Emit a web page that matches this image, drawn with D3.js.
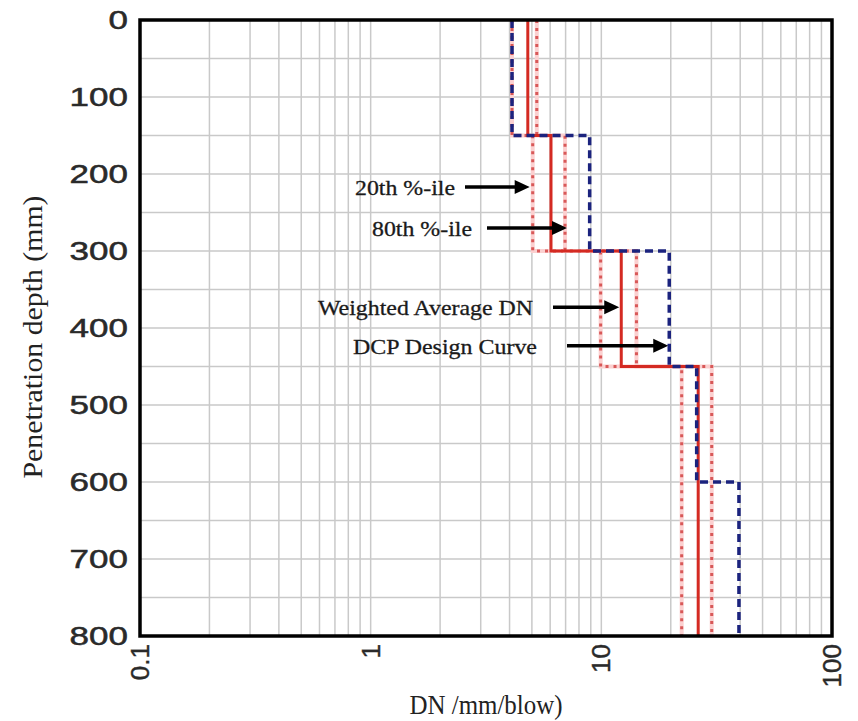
<!DOCTYPE html>
<html><head><meta charset="utf-8">
<script src="https://cdn.jsdelivr.net/npm/d3@7"></script>
<style>html,body{margin:0;padding:0;background:#fff;}</style>
</head><body>
<svg id="chart" width="858" height="721"></svg>
<script>
// ---- data ----
const layerEdges = [0, 150, 300, 450, 800];          // mm
const weightedAvgDN = [4.8, 6.05, 12.2, 26.3];       // mm/blow
const p20DN = [4.1, 5.04, 9.93, 22.3];
const p80DN = [5.25, 6.96, 14.2, 30.1];
const designEdges = [0, 150, 300, 450, 600, 800];
const designDN = [4.1, 8.9, 19.7, 25.9, 39.5];
const xTickLabels = ["0.1", "1", "10", "100"];
const xTickValues = [0.1, 1, 10, 100];
const yTickValues = [0, 100, 200, 300, 400, 500, 600, 700, 800];
const annLabels = ["20th %-ile", "80th %-ile", "Weighted Average DN", "DCP Design Curve"];
const annDepth = [217, 270, 373, 423];

// ---- layout ----
const L = 140, R = 832, T = 20, B = 636;
const svg = d3.select("#chart");
const x = d3.scaleLog().domain([0.1, 100]).range([L, R]);
const y = d3.scaleLinear().domain([0, 800]).range([T, B]);

// grid
const minor = [];
[0.1, 1, 10].forEach(d => { for (let k = 1; k <= 9; k++) minor.push(d * k); });
minor.push(100);
svg.append("g").selectAll("line").data(minor).join("line")
  .attr("x1", d => x(d)).attr("x2", d => x(d)).attr("y1", T).attr("y2", B)
  .attr("stroke", "#c9c9c9").attr("stroke-width", 1.5);
svg.append("g").selectAll("line").data(d3.range(0, 801, 50)).join("line")
  .attr("x1", L).attr("x2", R).attr("y1", d => y(d)).attr("y2", d => y(d))
  .attr("stroke", "#c9c9c9").attr("stroke-width", 1.5);

// step paths
function stepPts(edges, vals) {
  const pts = [];
  vals.forEach((v, i) => { pts.push([v, edges[i]]); pts.push([v, edges[i + 1]]); });
  return pts;
}
const line = d3.line().x(d => x(d[0])).y(d => y(d[1]));

[p20DN, p80DN].forEach(arr => {
  svg.append("path").attr("d", line(stepPts(layerEdges, arr)))
    .attr("fill", "none").attr("stroke", "#fbd0d0").attr("stroke-width", 4);
  svg.append("path").attr("d", line(stepPts(layerEdges, arr)))
    .attr("fill", "none").attr("stroke", "#d85858").attr("stroke-width", 3)
    .attr("stroke-dasharray", "3,5");
});
svg.append("path").attr("d", line(stepPts(layerEdges, weightedAvgDN)))
  .attr("fill", "none").attr("stroke", "#d42a22").attr("stroke-width", 3);
svg.append("path").attr("d", line(stepPts(designEdges, designDN)))
  .attr("fill", "none").attr("stroke", "#1b237e").attr("stroke-width", 3.5)
  .attr("stroke-dasharray", "8,5");

// frame
svg.append("rect").attr("x", L).attr("y", T).attr("width", R - L).attr("height", B - T)
  .attr("fill", "none").attr("stroke", "#000").attr("stroke-width", 3.5);

// y tick labels
svg.append("g").selectAll("text").data(yTickValues).join("text")
  .attr("transform", d => `translate(128,${y(d) + 9}) scale(1.4,1)`)
  .attr("text-anchor", "end").attr("font-family", "Liberation Sans, Arial, sans-serif")
  .attr("font-size", 25).attr("fill", "#2a2a2a").attr("stroke", "#2a2a2a").attr("stroke-width", 0.5)
  .text(d => d);

// x tick labels (rotated)
svg.append("g").selectAll("text").data(xTickValues).join("text")
  .attr("transform", d => `translate(${x(d) + 9},644) rotate(-90)`)
  .attr("text-anchor", "end").attr("font-family", "Liberation Sans, Arial, sans-serif")
  .attr("font-size", 26).attr("fill", "#2a2a2a").attr("stroke", "#2a2a2a").attr("stroke-width", 0.4)
  .text((d, i) => xTickLabels[i]);

// axis titles
svg.append("text").attr("x", 486).attr("y", 714).attr("text-anchor", "middle")
  .attr("font-family", "Liberation Serif, Times New Roman, serif").attr("font-size", 27)
  .attr("textLength", 153).attr("lengthAdjust", "spacingAndGlyphs").attr("fill", "#222")
  .text("DN /mm/blow)");
svg.append("text").attr("transform", "translate(42,337) rotate(-90)").attr("text-anchor", "middle")
  .attr("font-family", "Liberation Serif, Times New Roman, serif").attr("font-size", 28)
  .attr("textLength", 283).attr("lengthAdjust", "spacingAndGlyphs").attr("fill", "#222")
  .text("Penetration depth (mm)");

// annotations
const annTextEnd = [455, 472, 533, 537];
const annTextLen = [100, 100, 215, 184];
const annStart = [465, 487, 553, 567];
const annTip = [x(p20DN[1]) - 3, x(p80DN[1]) + 2, x(weightedAvgDN[2]) - 2, x(designDN[2]) - 1];
annLabels.forEach((lab, i) => {
  const yy = y(annDepth[i]);
  svg.append("text").attr("x", annTextEnd[i] - annTextLen[i]).attr("y", yy + 8)
    .attr("font-family", "Liberation Serif, Times New Roman, serif").attr("font-size", 22)
    .attr("textLength", annTextLen[i]).attr("lengthAdjust", "spacingAndGlyphs")
    .attr("fill", "#1a1a1a").attr("stroke", "#1a1a1a").attr("stroke-width", 0.3).text(lab);
  const tip = annTip[i], ah = 15, aw = 7;
  svg.append("line").attr("x1", annStart[i]).attr("x2", tip - ah + 2).attr("y1", yy).attr("y2", yy)
    .attr("stroke", "#000").attr("stroke-width", 3.5);
  svg.append("path").attr("d", `M${tip},${yy}L${tip - ah},${yy - aw}L${tip - ah},${yy + aw}Z`)
    .attr("fill", "#000");
});
</script>
</body></html>
